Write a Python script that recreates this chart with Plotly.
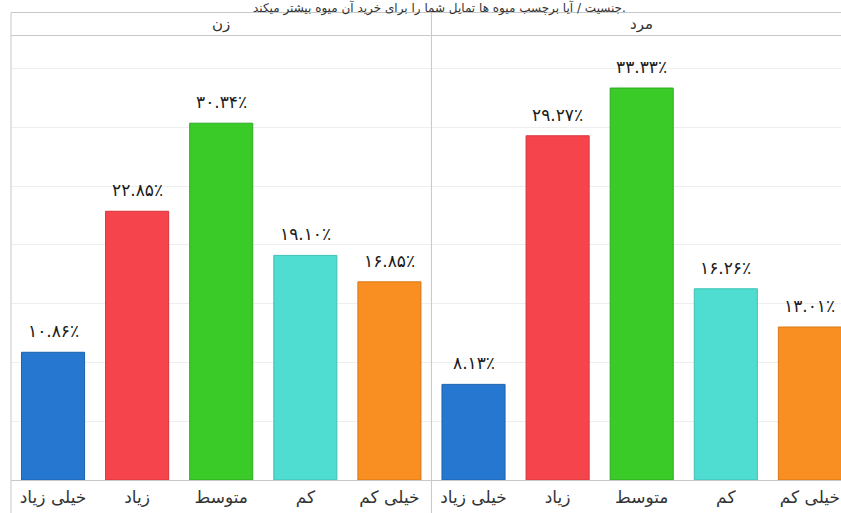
import plotly.graph_objects as go

title_text = "جنسیت / آیا برچسب میوه ها تمایل شما را برای خرید آن میوه بیشتر میکند."
genders = ["زن", "مرد"]
categories = ["خیلی زیاد", "زیاد", "متوسط", "کم", "خیلی کم"]
colors = ["#2577d0", "#f5444c", "#3acb28", "#50ddd1", "#f98e22"]
edge_colors = ["#1d62ad", "#d9343b", "#2eab20", "#3fc0b4", "#d97815"]
values_women = [10.86, 22.85, 30.34, 19.10, 16.85]
values_men = [8.13, 29.27, 33.33, 16.26, 13.01]

FA_DIGITS = str.maketrans("0123456789", "۰۱۲۳۴۵۶۷۸۹")


def fa_pct(v):
    return ("%.2f" % v).translate(FA_DIGITS) + "٪"


FONT = "Tahoma, DejaVu Sans, sans-serif"
W, H = 841, 513
ML, MR, MT, MB = 11, 0, 35, 33
X_RANGE = [-0.5, 9.37]
Y_RANGE = [0, 37.84]

fig = go.Figure()
xs, ys, cols, ecols, labels = [], [], [], [], []
for gi, vals in enumerate([values_women, values_men]):
    for ci, v in enumerate(vals):
        xs.append(gi * len(categories) + ci)
        ys.append(v)
        cols.append(colors[ci])
        ecols.append(edge_colors[ci])
        labels.append(categories[ci])

fig.add_trace(go.Bar(
    x=xs, y=ys, width=0.75,
    marker=dict(color=cols, line=dict(color=ecols, width=1)),
    hoverinfo="skip", showlegend=False,
))

for x, y in zip(xs, ys):
    fig.add_annotation(x=x, y=y, text=fa_pct(y), showarrow=False,
                       yanchor="bottom", yshift=9,
                       font=dict(family=FONT, size=17, color="#1a1a1a"))

plot_h = H - MT - MB
plot_w = W - ML - MR


def py(pix):
    return (H - MB - pix) / plot_h


def px(xval):
    return (xval - X_RANGE[0]) / (X_RANGE[1] - X_RANGE[0])


line_col = "#c8c8c8"
fig.add_shape(type="line", xref="paper", yref="paper", x0=0, x1=1.02,
              y0=py(12.5), y1=py(12.5), line=dict(color=line_col, width=1))
fig.add_shape(type="line", xref="paper", yref="paper", x0=0, x1=1.02,
              y0=py(35.5), y1=py(35.5), line=dict(color=line_col, width=1))
for xv in [-0.5, 4.5]:
    fig.add_shape(type="line", xref="paper", yref="paper", x0=px(xv), x1=px(xv),
                  y0=py(12.5), y1=py(H + 2), line=dict(color=line_col, width=1))

for gi, g in enumerate(genders):
    fig.add_annotation(xref="x", yref="paper", x=gi * 5 + 2, y=py(24),
                       text=g, showarrow=False, yanchor="middle",
                       font=dict(family=FONT, size=15, color="#333"))

fig.add_annotation(xref="paper", yref="paper", x=px(4.6), y=py(8),
                   text=title_text, showarrow=False, yanchor="middle",
                   font=dict(family=FONT, size=12, color="#333"))

fig.update_layout(
    width=W, height=H,
    margin=dict(l=ML, r=MR, t=MT, b=MB),
    paper_bgcolor="white", plot_bgcolor="white",
    bargap=0.25,
    xaxis=dict(range=X_RANGE, tickmode="array", tickvals=xs, ticktext=labels,
               showgrid=False, zeroline=False, showline=False,
               tickfont=dict(family=FONT, size=17, color="#333"),
               ticks="outside", ticklen=2, tickcolor="rgba(0,0,0,0)"),
    yaxis=dict(range=Y_RANGE, dtick=5, showgrid=True, gridcolor="#eeeeee",
               gridwidth=1, zeroline=True, zerolinecolor="#c8c8c8",
               zerolinewidth=1, showticklabels=False, showline=False),
)

fig.write_html("out.html", config={"displayModeBar": False},
               post_script="document.body.style.margin='0';document.body.style.overflow='hidden';")
